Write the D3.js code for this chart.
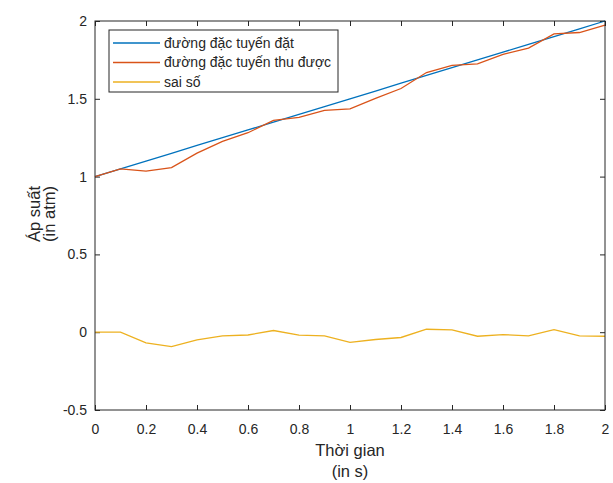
<!DOCTYPE html>
<html>
<head>
<meta charset="utf-8">
<script src="https://cdn.jsdelivr.net/npm/d3@7"></script>
<style>
    body { margin: 0; background: #fff; }
    text { font-family: "Liberation Sans", Arial, sans-serif; fill: #262626; }
</style>
</head>
<body>
<div id="chart"></div>
<script>
// time (s)
var time = [0, 0.1, 0.2, 0.3, 0.4, 0.5, 0.6, 0.7, 0.8, 0.9, 1.0,
    1.1, 1.2, 1.3, 1.4, 1.5, 1.6, 1.7, 1.8, 1.9, 2.0];
// đường đặc tuyến đặt
var setValues = [1.0, 1.05, 1.1, 1.15, 1.2, 1.25, 1.3, 1.35, 1.4, 1.45, 1.5,
    1.55, 1.6, 1.65, 1.7, 1.75, 1.8, 1.85, 1.9, 1.95, 2.0];
// đường đặc tuyến thu được
var measured = [1.0, 1.05, 1.035, 1.058, 1.151, 1.226, 1.282, 1.361, 1.381, 1.426, 1.435,
    1.503, 1.566, 1.669, 1.715, 1.724, 1.785, 1.826, 1.917, 1.926, 1.974];
// sai số
var errors = [0.0, 0.0, -0.068, -0.093, -0.049, -0.024, -0.018, 0.011, -0.019, -0.024, -0.065,
    -0.047, -0.034, 0.019, 0.015, -0.026, -0.015, -0.024, 0.017, -0.024, -0.026];

var xTicks = [0, 0.2, 0.4, 0.6, 0.8, 1, 1.2, 1.4, 1.6, 1.8, 2];
var yTicks = [-0.5, 0, 0.5, 1, 1.5, 2];

var series = [
    { name: "đường đặc tuyến đặt", values: setValues, color: "#0072BD" },
    { name: "đường đặc tuyến thu được", values: measured, color: "#D95319" },
    { name: "sai số", values: errors, color: "#EDB120" }
];

var margin = { top: 21, right: 8, bottom: 73, left: 95 },
    width = 613 - margin.left - margin.right,
    height = 483 - margin.top - margin.bottom;

var svg = d3.select("#chart").append("svg")
    .attr("width", 613)
    .attr("height", 483)
    .append("g")
    .attr("transform", "translate(" + margin.left + "," + margin.top + ")");

var x = d3.scaleLinear().domain([0, 2]).range([0, width]);
var y = d3.scaleLinear().domain([-0.5, 2]).range([height, 0]);

var axisColor = "#262626";
var plain = d => String(d);

// bottom axis with labels
var gx = svg.append("g")
    .attr("transform", "translate(0," + height + ")")
    .call(d3.axisBottom(x).tickValues(xTicks).tickSize(-5).tickPadding(14).tickFormat(plain));
// left axis with labels
var gy = svg.append("g")
    .call(d3.axisLeft(y).tickValues(yTicks).tickSize(-5).tickPadding(8).tickFormat(plain));
// top and right ticks
var gt = svg.append("g")
    .call(d3.axisTop(x).tickValues(xTicks).tickSize(-5).tickFormat(""));
var gr = svg.append("g")
    .attr("transform", "translate(" + width + ",0)")
    .call(d3.axisRight(y).tickValues(yTicks).tickSize(-5).tickFormat(""));

[gx, gy, gt, gr].forEach(function(g) {
    g.select(".domain").remove();
    g.selectAll("line").attr("stroke", axisColor).attr("stroke-width", 1);
    g.selectAll("text").style("font-size", "14px").style("fill", axisColor)
        .style("font-family", '"Liberation Sans", Arial, sans-serif');
});

// lines
var line = d3.line()
    .x((d, i) => x(time[i]))
    .y(d => y(d));

svg.selectAll(".series")
    .data(series)
    .enter().append("path")
    .attr("class", "series")
    .attr("fill", "none")
    .attr("stroke", d => d.color)
    .attr("stroke-width", 1.3)
    .attr("d", d => line(d.values));

// box
svg.append("rect")
    .attr("width", width)
    .attr("height", height)
    .attr("fill", "none")
    .attr("stroke", axisColor)
    .attr("stroke-width", 1);

// legend
var legend = svg.append("g")
    .attr("transform", "translate(" + (109 - margin.left) + "," + (30 - margin.top) + ")");

legend.append("rect")
    .attr("width", 229)
    .attr("height", 62)
    .attr("fill", "#fff")
    .attr("stroke", axisColor)
    .attr("stroke-width", 1);

var rows = legend.selectAll(".row")
    .data(series)
    .enter().append("g")
    .attr("class", "row")
    .attr("transform", (d, i) => "translate(0," + (13 + i * 19.5) + ")");

rows.append("line")
    .attr("x1", 4)
    .attr("x2", 51)
    .attr("stroke", d => d.color)
    .attr("stroke-width", 1.3);

rows.append("text")
    .attr("x", 55)
    .attr("dy", "0.35em")
    .style("font-size", "14px")
    .text(d => d.name);

// x axis label
svg.append("text")
    .attr("x", width / 2)
    .attr("y", height + 46)
    .attr("text-anchor", "middle")
    .style("font-size", "16.5px")
    .text("Thời gian");
svg.append("text")
    .attr("x", width / 2)
    .attr("y", height + 67)
    .attr("text-anchor", "middle")
    .style("font-size", "16.5px")
    .text("(in s)");

// y axis label
var ylab = svg.append("text")
    .attr("transform", "translate(-55," + (214 - margin.top) + ") rotate(-90)")
    .attr("text-anchor", "middle")
    .style("font-size", "16.5px");
ylab.append("tspan").attr("x", 0).attr("dy", "0").text("Áp suất");
ylab.append("tspan").attr("x", 0).attr("dy", "15px").text("(in atm)");
</script>
</body>
</html>
